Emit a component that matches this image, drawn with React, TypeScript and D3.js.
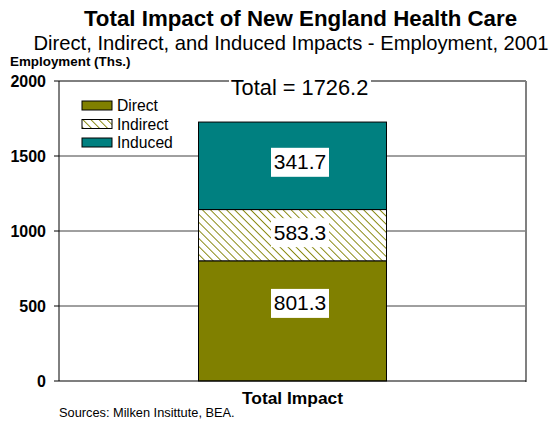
import React from "react";
import * as d3 from "d3";

const categories = ["Total Impact"];
const seriesNames = ["Direct", "Indirect", "Induced"];
// segment heights as drawn in the reference
const seriesValues = [801.3, 341.7, 583.3];
// labels printed on segments (as shown in the reference)
const segmentLabels = ["801.3", "583.3", "341.7"];
const totalLabel = "Total = 1726.2";
const yTicks = [0, 500, 1000, 1500, 2000];

const W = 552;
const H = 423;
const margin = { left: 59, right: 26, top: 81, bottom: 42 };
const FONT = "Arial, 'Liberation Sans', sans-serif";

export default function App() {
  const x0 = margin.left;
  const x1 = W - margin.right;
  const y = d3.scaleLinear().domain([0, 2000]).range([H - margin.bottom, margin.top]);
  const x = d3.scaleBand().domain(categories).range([x0, x1]).padding(0.426);

  const stacked = seriesValues.reduce<{ s: number; e: number }[]>((acc, v) => {
    const s = acc.length ? acc[acc.length - 1].e : 0;
    acc.push({ s, e: s + v });
    return acc;
  }, []);
  const fills = ["#808000", "url(#hatch)", "#008080"];
  const labelOffsets = [-18, -3, -4];

  const bx = x(categories[0])!;
  const bw = x.bandwidth();
  const cx = bx + bw / 2;

  return (
    <svg width={W} height={H} style={{ position: "absolute", left: 0, top: 0, background: "#fff" }} fontFamily={FONT}>
      <defs>
        <pattern id="hatch" patternUnits="userSpaceOnUse" width="5.7" height="5.7" patternTransform="rotate(-45)">
          <rect width="5.7" height="5.7" fill="#fff" />
          <line x1="0" y1="0" x2="0" y2="5.7" stroke="#808000" strokeWidth="1.8" />
        </pattern>
      </defs>
      <text x={300.5} y={26} textAnchor="middle" fontSize={22.3} fontWeight="bold">Total Impact of New England Health Care</text>
      <text x={291} y={50} textAnchor="middle" fontSize={20.2}>Direct, Indirect, and Induced Impacts - Employment, 2001</text>
      <text x={10} y={66} fontSize={13.4} fontWeight="bold">Employment (Ths.)</text>

      {/* gridlines */}
      {yTicks.filter((t) => t > 0 && t < 2000).map((t) => (
        <line key={t} x1={x0} x2={x1} y1={y(t)} y2={y(t)} stroke="#404040" strokeWidth={1} />
      ))}
      {/* top border */}
      <line x1={x0} x2={x1} y1={y(2000)} y2={y(2000)} stroke="#000" strokeWidth={1} />
      {/* right border */}
      <line x1={x1} x2={x1} y1={y(2000)} y2={y(0) + 1} stroke="#808080" strokeWidth={2} />

      {/* bar segments */}
      {stacked.map((d, i) => (
        <rect key={i} x={bx} width={bw} y={y(d.e)} height={y(d.s) - y(d.e)} fill={fills[i]} stroke="#000" strokeWidth={1} />
      ))}

      {/* axes */}
      <line x1={x0} x2={x0} y1={y(2000)} y2={y(0)} stroke="#000" strokeWidth={1} />
      <line x1={x0} x2={x1} y1={y(0)} y2={y(0)} stroke="#000" strokeWidth={1.2} />
      {yTicks.map((t) => (
        <g key={t}>
          <line x1={x0 - 5} x2={x0} y1={y(t)} y2={y(t)} stroke="#000" />
          <text x={46} y={y(t) + 6} textAnchor="end" fontSize={16} fontWeight="bold">{t}</text>
        </g>
      ))}
      <text x={cx} y={404} textAnchor="middle" fontSize={17.4} fontWeight="bold">{categories[0]}</text>

      {/* total label */}
      <rect x={229} y={y(2000) - 8} width={142} height={18} fill="#fff" />
      <text x={299.5} y={y(2000) + 14} textAnchor="middle" fontSize={21.8}>{totalLabel}</text>

      {/* segment labels */}
      {stacked.map((d, i) => {
        const cy = (y(d.s) + y(d.e)) / 2 + labelOffsets[i];
        return (
          <g key={i}>
            <rect x={271} y={cy - 14} width={58} height={29} fill="#fff" />
            <text x={300} y={cy + 7.5} textAnchor="middle" fontSize={21}>{segmentLabels[i]}</text>
          </g>
        );
      })}

      {/* legend */}
      {seriesNames.map((n, i) => (
        <g key={n} transform={`translate(82, ${101 + i * 18.5})`}>
          <rect x={0} y={0} width={30} height={9} fill={fills[i]} stroke="#000" strokeWidth={1} />
          <text x={35} y={10} fontSize={15.7}>{n}</text>
        </g>
      ))}

      <text x={59} y={417} fontSize={12.8}>Sources: Milken Insittute, BEA.</text>
    </svg>
  );
}
